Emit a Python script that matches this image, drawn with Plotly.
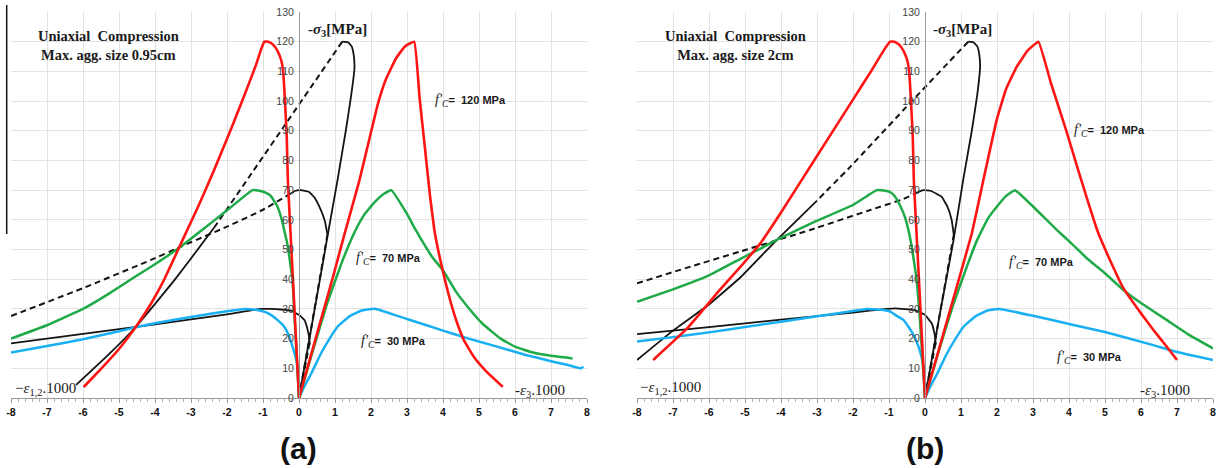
import plotly.graph_objects as go

# ---------------------------------------------------------------------------
# Stress-strain curves, uniaxial compression.
# x: strain * 1000 (negative = lateral -eps_1,2, positive = axial -eps_3)
# y: -sigma_3 [MPa]
# ---------------------------------------------------------------------------

# ---- (a) max. aggregate size 0.95 cm ----
a_red_lat = [(-5.98, 3.7), (-5.5, 9.8), (-5.0, 16.5), (-4.53, 24), (-4.1, 32), (-3.74, 40),
             (-3.28, 52), (-2.8, 64.5), (-2.35, 77), (-1.89, 90.5), (-1.5, 102.5), (-1.2, 112),
             (-1.05, 117.5), (-0.96, 120), (-0.85, 120), (-0.72, 119), (-0.6, 117), (-0.5, 114),
             (-0.44, 110), (-0.39, 100), (-0.34, 88), (-0.31, 73.4), (-0.22, 52), (-0.13, 30.8), (0, 0)]
a_red_ax = [(0, 0), (0.3, 13), (0.6, 26), (0.95, 41), (1.26, 55), (1.68, 73.4), (1.95, 87),
            (2.19, 99), (2.42, 107.5), (2.7, 114.5), (2.95, 118.5), (3.2, 120), (3.35, 101),
            (3.5, 84), (3.64, 68), (3.76, 56.6), (3.88, 49), (3.99, 43), (4.1, 37.5), (4.22, 32),
            (4.4, 25), (4.58, 19.5), (4.85, 14), (5.2, 9), (5.66, 3.8)]
a_green_lat = [(-8, 20), (-7, 24.5), (-6, 30), (-5.3, 35), (-4.6, 40.5), (-4.11, 44.2), (-3.28, 51),
               (-2.7, 56.5), (-1.99, 63.3), (-1.29, 70), (-1.1, 69.8), (-0.9, 69), (-0.78, 68),
               (-0.6, 64.5), (-0.5, 61), (-0.4, 56), (-0.31, 51), (-0.24, 45), (-0.18, 39.7),
               (-0.13, 28.6), (0, 0)]
a_green_ax = [(0, 0), (0.4, 16.5), (0.8, 32.5), (1.2, 46), (1.53, 55.5), (1.8, 61.5), (2.1, 66),
              (2.35, 68.7), (2.56, 70), (3.0, 62), (3.2, 57.5), (3.39, 53.5), (3.7, 47.5), (4.0, 43),
              (4.35, 36), (4.7, 30.5), (5.1, 25), (5.6, 20), (6.0, 17.3), (6.5, 15.3), (7.0, 14.2),
              (7.6, 13.3)]
a_blue_lat = [(-8, 15.3), (-7, 17.5), (-6, 19.8), (-5, 22.5), (-4.5, 23.9), (-4, 25.2), (-3, 27.3),
              (-2, 29.2), (-1.5, 30), (-1.2, 29.7), (-0.95, 29), (-0.78, 28), (-0.6, 26.3),
              (-0.41, 24), (-0.28, 21), (-0.18, 17.3), (-0.1, 14), (-0.04, 10.5), (0, 0)]
a_blue_ax = [(0, 0), (0.15, 4), (0.33, 8), (0.61, 15), (0.85, 20), (1.07, 24), (1.4, 27.5),
             (1.72, 29.4), (1.95, 29.9), (2.14, 30), (3.0, 26.6), (4.0, 22.7), (4.69, 20.1),
             (5.5, 17.3), (6.3, 14.5), (7.0, 12.4), (7.5, 11), (7.83, 10), (7.9, 10.5)]
# volumetric-type black curves
a_k30 = [(-8, 18.4), (-6, 21.6), (-4, 24.8), (-2, 28.2), (-1.05, 30), (-0.78, 30), (-0.5, 29.8),
         (-0.22, 29.4), (0, 28), (0.15, 26.3), (0.23, 23.5), (0.28, 20.6), (0.3, 18)]
a_k70_arc = [(-0.22, 68.9), (-0.1, 69.8), (0.05, 70), (0.28, 69.4), (0.43, 67.5), (0.6, 63.5),
             (0.72, 59.5), (0.79, 55)]
a_k70_dash = [(-8, 27.6), (-6, 37), (-4.11, 46.5), (-3.28, 51), (-2, 57.7), (-1, 63.4), (-0.22, 68.9)]
a_k120_up = [(0, 0), (0.4, 27.5), (0.8, 55), (1.07, 73.4), (1.3, 90), (1.45, 102), (1.54, 111),
             (1.52, 115.5), (1.46, 118.5), (1.36, 119.8), (1.2, 120)]
a_k120_dash = [(1.2, 120), (-0.41, 91.6), (-1.15, 78.6), (-2.35, 57.5)]
a_k120_tail = [(-2.35, 57.5), (-2.72, 51.5), (-3.46, 39.7), (-4.53, 24), (-5.3, 14.5), (-6.19, 4.4)]
a_k_rise30 = [(0, 0), (0.3, 19)]
a_k_rise70 = [(0, 0), (0.79, 55)]

# ---- (b) max. aggregate size 2 cm ----
b_red_lat = [(-7.55, 12.8), (-6.6, 23.5), (-5.7, 36.4), (-5.14, 44), (-4.58, 52), (-4.0, 62.5),
             (-3.0, 81.5), (-2.0, 100.5), (-1.5, 110), (-1.15, 117), (-0.97, 120), (-0.85, 120),
             (-0.72, 119), (-0.6, 117), (-0.5, 114), (-0.44, 110), (-0.39, 100), (-0.34, 88),
             (-0.31, 73.4), (-0.22, 52), (-0.13, 30.8), (0, 0)]
b_red_ax = [(0, 0), (0.4, 17), (0.8, 34), (1.3, 55.4), (1.65, 75), (1.99, 93.6), (2.25, 104),
            (2.55, 111.6), (2.85, 117), (3.15, 120), (3.5, 106), (3.9, 91), (4.3, 75), (4.8, 56),
            (5.1, 47.5), (5.51, 37), (6.0, 28.5), (6.34, 23), (6.7, 17.5), (7.0, 12.8)]
b_green_lat = [(-8, 32.4), (-7, 36.6), (-6, 41.3), (-5.14, 46.8), (-4.68, 49.6), (-4.03, 53.8),
               (-3, 59.7), (-2, 65), (-1.34, 70), (-1.1, 69.8), (-0.95, 69.2), (-0.83, 67.8),
               (-0.7, 65), (-0.56, 61), (-0.45, 56), (-0.37, 51), (-0.3, 45.5), (-0.23, 39.7),
               (-0.15, 28), (0, 0)]
b_green_ax = [(0, 0), (0.4, 16.5), (0.8, 32), (1.2, 45.5), (1.44, 53), (1.75, 60.5), (2.0, 64.5),
              (2.25, 68), (2.5, 70), (3.0, 64.5), (3.66, 56.6), (4.03, 52.5), (4.5, 47), (5.0, 42),
              (5.51, 36.4), (6.0, 32), (6.71, 26.3), (7.3, 21.5), (8.0, 16.7)]
b_blue_lat = [(-8, 19), (-7, 20.5), (-6, 22.1), (-5, 23.9), (-4, 25.7), (-3, 27.5), (-2, 29.3),
              (-1.62, 30), (-1.2, 29.7), (-0.95, 29), (-0.83, 28), (-0.6, 26.3), (-0.46, 24),
              (-0.3, 20.8), (-0.18, 17.3), (-0.1, 14), (-0.04, 10.5), (0, 0)]
b_blue_ax = [(0, 0), (0.15, 4), (0.33, 8), (0.61, 15), (0.85, 20), (1.07, 24), (1.4, 27.5),
             (1.72, 29.4), (1.95, 29.9), (2.08, 30), (3.0, 27.7), (4.12, 24.6), (5.0, 22.2),
             (6.34, 17.8), (7.0, 15.5), (8.0, 12.8)]
b_k30 = [(-8, 21.5), (-6, 23.9), (-4, 26.4), (-2, 28.8), (-1.06, 30), (-0.83, 30.2), (-0.28, 29.6),
         (0, 28), (0.19, 25.1), (0.25, 22.5), (0.28, 20.6), (0.3, 18)]
b_k70_arc = [(-0.2, 69.3), (-0.05, 70), (0.15, 69.8), (0.46, 67.8), (0.62, 64.5), (0.74, 60), (0.8, 55)]
b_k70_dash = [(-8, 38.6), (-6.5, 44.3), (-5.14, 49.3), (-3.19, 56.6), (-1.5, 63.4), (-0.6, 67), (-0.2, 69.3)]
b_k120_up = [(0, 0), (0.4, 27.5), (0.79, 53), (1.06, 73.4), (1.3, 90), (1.45, 102), (1.53, 111.6),
             (1.51, 115.5), (1.45, 118.5), (1.34, 119.8), (1.2, 120)]
b_k120_dash = [(1.2, 120), (-0.42, 99.3), (-2.08, 77.8), (-3.0, 66.5)]
b_k120_tail = [(-3.0, 66.5), (-4.12, 53.2), (-5.14, 40.5), (-6, 31.5), (-7, 22.7), (-8, 12.8)]
b_k_rise30 = [(0, 0), (0.3, 19)]
b_k_rise70 = [(0, 0), (0.8, 55)]

x_ticks = list(range(-8, 9))
y_ticks = list(range(0, 131, 10))

RED, GREEN, BLUE, BLACK = "#ff1414", "#1faa48", "#18b0f2", "#141414"
SERIF, SANS = "Liberation Serif, Times New Roman, serif", "Liberation Sans, Arial, sans-serif"

panels = [
    dict(xa="x", ya="y", red=(a_red_lat, a_red_ax), green=(a_green_lat, a_green_ax),
         blue=(a_blue_lat, a_blue_ax), k_solid=[a_k30, a_k70_arc, a_k120_up, a_k120_tail],
         k_dash=[a_k70_dash, a_k120_dash, a_k_rise30, a_k_rise70]),
    dict(xa="x2", ya="y2", red=(b_red_lat, b_red_ax), green=(b_green_lat, b_green_ax),
         blue=(b_blue_lat, b_blue_ax), k_solid=[b_k30, b_k70_arc, b_k120_up, b_k120_tail],
         k_dash=[b_k70_dash, b_k120_dash, b_k_rise30, b_k_rise70]),
]


def xy(pts):
    return [p[0] for p in pts], [p[1] for p in pts]


fig = go.Figure()


def add_line(pts, color, width, xa, ya, dash="solid"):
    x, y = xy(pts)
    fig.add_trace(go.Scatter(x=x, y=y, mode="lines", xaxis=xa, yaxis=ya, showlegend=False,
                             hoverinfo="skip",
                             line=dict(color=color, width=width, dash=dash,
                                       shape="spline", smoothing=0.3)))


for p in panels:
    for seg in p["k_dash"]:
        add_line(seg, BLACK, 2.0, p["xa"], p["ya"], dash="6px,4px")
    for seg in p["k_solid"]:
        add_line(seg, BLACK, 1.8, p["xa"], p["ya"])
    for seg in p["blue"]:
        add_line(seg, BLUE, 2.5, p["xa"], p["ya"])
    for seg in p["green"]:
        add_line(seg, GREEN, 2.5, p["xa"], p["ya"])
    for seg in p["red"]:
        add_line(seg, RED, 2.6, p["xa"], p["ya"])

W, H = 1220, 468
x_dom = [[11 / W, 587 / W], [637 / W, 1213 / W]]
y_dom = [70 / H, 456 / H]
y_pos = [299 / W, 925 / W]

grid_col = "#e3e3e3"
axis_col = "#9a9a9a"

layout = dict(
    width=W, height=H, margin=dict(l=0, r=0, t=0, b=0),
    paper_bgcolor="white", plot_bgcolor="white", template="none",
    showlegend=False,
)
for i, (xk, yk) in enumerate([("xaxis", "yaxis"), ("xaxis2", "yaxis2")]):
    yname = "y" if i == 0 else "y2"
    layout[xk] = dict(
        domain=x_dom[i], range=[-8, 8], anchor=yname, tickvals=x_ticks,
        ticktext=[str(v) for v in x_ticks], showgrid=True, gridcolor=grid_col, gridwidth=1,
        zeroline=False, showline=True, linecolor=axis_col, linewidth=1,
        ticks="outside", ticklen=4, tickcolor=axis_col,
        minor=dict(dtick=0.2, tick0=0, ticks="outside", ticklen=3, tickcolor="#b0b0b0", showgrid=False),
        tickfont=dict(family=SANS, size=10.5, color="#111111", weight="bold"),
        fixedrange=True,
    )
    layout[yk] = dict(
        domain=y_dom, range=[0, 130], anchor="free", position=y_pos[i],
        tickvals=y_ticks, showgrid=True, gridcolor=grid_col, gridwidth=1, zeroline=False,
        showline=True, linecolor=axis_col, linewidth=1, ticks="", ticklabelstandoff=3,
        tickfont=dict(family=SANS, size=10.5, color="#444444"),
        fixedrange=True,
    )
fig.update_layout(**layout)

F_TXT = ("<span style=\"font-family:'Liberation Serif';font-style:italic;font-weight:normal;"
         "font-size:14px\">f'<sub>C</sub></span><b>=  {} MPa</b>")

notes = [
    # (a)
    ("x", "y", -5.28, 118.6, "<b>Uniaxial  Compression<br>Max. agg. size 0.95cm</b>", SERIF, 14.5, "center"),
    ("x", "y", 1.07, 124.0, "<b>-<i>σ</i><sub>3</sub>[MPa]</b>", SERIF, 15, "center"),
    ("x", "y", 3.72, 100.3, F_TXT.format(120), SANS, 11, "left"),
    ("x", "y", 1.53, 47.1, F_TXT.format(70), SANS, 11, "left"),
    ("x", "y", 1.67, 18.9, F_TXT.format(30), SANS, 11, "left"),
    ("x", "y", -7.94, 3.0, "−<i>ε</i><sub>1,2</sub>.1000", SERIF, 15, "left"),
    ("x", "y", 5.94, 2.4, "-<i>ε</i><sub>3</sub>.1000", SERIF, 15, "left"),
    # (b)
    ("x2", "y2", -5.25, 118.6, "<b>Uniaxial  Compression<br>Max. agg. size 2cm</b>", SERIF, 14.5, "center"),
    ("x2", "y2", 1.04, 124.0, "<b>-<i>σ</i><sub>3</sub>[MPa]</b>", SERIF, 15, "center"),
    ("x2", "y2", 4.08, 90.2, F_TXT.format(120), SANS, 11, "left"),
    ("x2", "y2", 2.28, 45.5, F_TXT.format(70), SANS, 11, "left"),
    ("x2", "y2", 3.61, 13.5, F_TXT.format(30), SANS, 11, "left"),
    ("x2", "y2", -7.97, 3.4, "−<i>ε</i><sub>1,2</sub>.1000", SERIF, 15, "left"),
    ("x2", "y2", 5.92, 2.4, "-<i>ε</i><sub>3</sub>.1000", SERIF, 15, "left"),
]
for xr, yr, x, y, text, fam, size, xan in notes:
    fig.add_annotation(x=x, y=y, xref=xr, yref=yr, text=text, showarrow=False,
                       xanchor=xan, yanchor="middle", align="center",
                       font=dict(family=fam, size=size, color="#1a1a1a"))

# panel captions
for xp, lab in [(298 / W, "(a)"), (925 / W, "(b)")]:
    fig.add_annotation(x=xp, y=(H - 448) / H, xref="paper", yref="paper", text=f"<b>{lab}</b>",
                       showarrow=False, xanchor="center", yanchor="middle",
                       font=dict(family=SANS, size=30, color="#111111"))

# thin frame stroke at the far left of the first panel
fig.add_shape(type="line", xref="paper", yref="paper", x0=6.7 / W, x1=6.7 / W,
              y0=(H - 5) / H, y1=(H - 234) / H, line=dict(color="#111111", width=1.5))

fig.write_html("out.html")
